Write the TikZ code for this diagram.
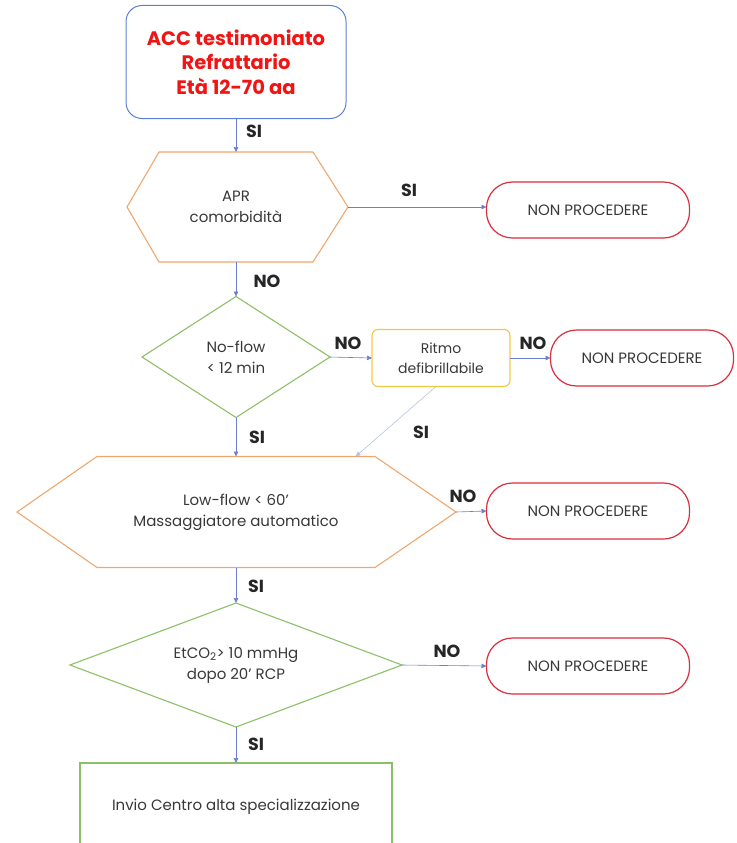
\documentclass[tikz,border=0pt]{standalone}
\usepackage{fontspec}
\setmainfont{Poppins}
\usetikzlibrary{shapes.geometric,arrows.meta,calc}

\definecolor{boxblue}{HTML}{5B7FD6}
\definecolor{hexorange}{HTML}{F0A66C}
\definecolor{diagreen}{HTML}{8CC068}
\definecolor{goldline}{HTML}{F2C744}
\definecolor{stopred}{HTML}{D92E3C}
\definecolor{arrowblue}{HTML}{6B7FD0}
\definecolor{softline}{HTML}{B4C4E2}
\definecolor{titlered}{HTML}{F01414}
\definecolor{bodytext}{HTML}{383838}

\tikzset{
  body/.style={font=\fontsize{15}{21}\selectfont, text=bodytext, align=center, outer sep=0pt},
  tag/.style={font=\bfseries\fontsize{17.5}{17.5}\selectfont, text=black!85},
  flow/.style={draw=arrowblue, line width=0.6pt, -{Triangle[length=5pt,width=4.5pt]}},
  hexline/.style={draw=hexorange, line width=1.1pt, line join=miter},
  decision/.style={diamond, draw=diagreen, line width=1.1pt, inner sep=0pt, body},
  stopbox/.style={draw=stopred, line width=1.2pt, rounded corners=26pt,
    minimum width=203pt, minimum height=56pt, body},
}

\begin{document}
\begin{tikzpicture}[x=1pt,y=-1pt]
\useasboundingbox (0,0) rectangle (736,843);
\clip (0,0) rectangle (736,843);

% start box
\node[draw=boxblue, line width=1pt, rounded corners=16pt, minimum width=220pt,
      minimum height=113pt, text=titlered, align=center,
      font=\bfseries\fontsize{19.5}{24.5}\selectfont] (start) at (236,62)
      {ACC testimoniato\\Refrattario\\Età 12-70 aa};

% APR hexagon
\node[body, minimum width=154pt, minimum height=110pt] (apr) at (236,207) {APR\\comorbidità};
\coordinate (aprL) at (127,207);
\coordinate (aprR) at (348,207);
\draw[hexline] (apr.north west) -- (apr.north east) -- (aprR) -- (apr.south east)
  -- (apr.south west) -- (aprL) -- cycle;

\node[stopbox] (np1) at (588,210) {NON PROCEDERE};

% no-flow decision
\node[decision, aspect=1.55, minimum width=188pt, minimum height=121pt] (nf) at (236,357)
  {No-flow\\< 12 min};
\node[draw=goldline, line width=1.1pt, rounded corners=6pt, minimum width=138pt,
      minimum height=57pt, body, font=\fontsize{14}{20}\selectfont] (ritmo) at (441,358)
      {Ritmo\\defibrillabile};
\node[stopbox, minimum width=183pt] (np2) at (642,358) {NON PROCEDERE};

% low-flow hexagon
\node[body, minimum width=278pt, minimum height=111pt] (low) at (236,512)
  {Low-flow < 60'\\Massaggiatore automatico};
\coordinate (lowL) at (17,512);
\coordinate (lowR) at (456,512);
\draw[hexline] (low.north west) -- (low.north east) -- (lowR) -- (low.south east)
  -- (low.south west) -- (lowL) -- cycle;
\node[stopbox] (np3) at (588,511) {NON PROCEDERE};

% EtCO2 decision
\node[decision, aspect=2.68, minimum width=332pt, minimum height=124pt] (et) at (236,665)
  {EtCO\textsubscript{2}> 10 mmHg\\dopo 20' RCP};
\node[stopbox] (np4) at (588,666) {NON PROCEDERE};

% final box
\node[draw=diagreen, line width=1.1pt, minimum width=312pt, minimum height=88pt,
      anchor=north, body] (invio) at (236,763) {Invio Centro alta specializzazione};

% connectors
\draw[flow] (start) -- (apr.north);
\draw[flow] (aprR) -- (aprR -| np1.west);
\draw[flow] (apr.south) -- (nf.north);
\draw[flow] (nf.east) -- (ritmo.west);
\draw[flow] (ritmo.east) -- (np2.west);
\draw[flow] (nf.south) -- (low.north);
\coordinate (lowIn) at ($(low.north)!0.86!(low.north east)$);
\draw[flow, draw=softline] ($(ritmo.south)+(-5,0)$) -- (lowIn);
\draw[flow] (lowR) -- (np3.west);
\draw[flow] (low.south) -- (et.north);
\draw[flow] (et.east) -- (np4.west);
\draw[flow] (et.south) -- (invio.north);

% branch labels
\node[tag] (l1) at (254,131) {SI};
\node[tag] (l2) at (409,190) {SI};
\node[tag] (l3) at (267,281) {NO};
\node[tag] (l4) at (348,343) {NO};
\node[tag] (l5) at (533,343) {NO};
\node[tag] (l6) at (421,432) {SI};
\node[tag] (l7) at (257,437) {SI};
\node[tag] (l8) at (463,496) {NO};
\node[tag] (l9) at (256,586) {SI};
\node[tag] (l10) at (447,651) {NO};
\node[tag] (l11) at (256,744) {SI};
\end{tikzpicture}
\end{document}
